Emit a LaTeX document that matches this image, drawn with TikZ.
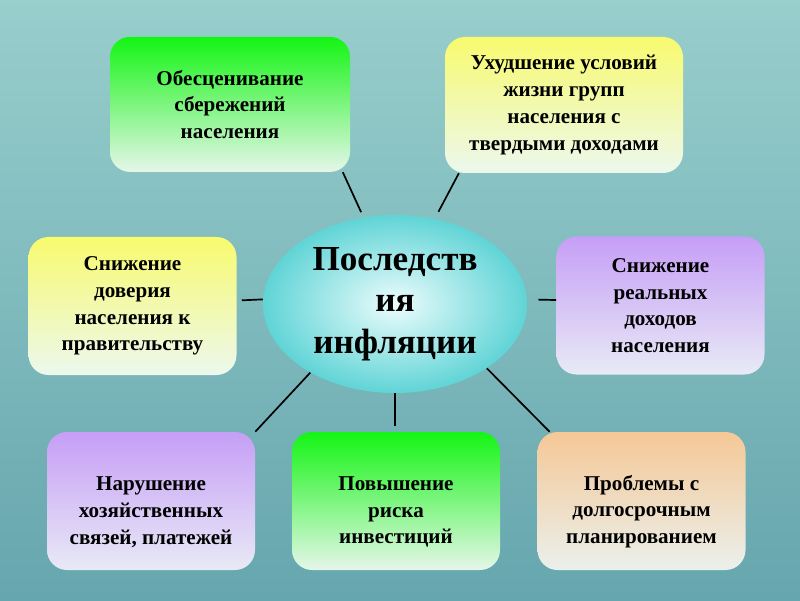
\documentclass[tikz,border=0pt]{standalone}
\usepackage{fontspec}
\setmainfont{Liberation Serif}
\usepackage{xcolor}
\usetikzlibrary{shapes.geometric,positioning}

\definecolor{bgtop}{RGB}{152,206,204}
\definecolor{bgbot}{RGB}{102,166,174}
\definecolor{greentop}{RGB}{20,245,20}
\definecolor{greenbot}{RGB}{230,246,234}
\definecolor{yellowtop}{RGB}{248,250,110}
\definecolor{yellowbot}{RGB}{236,248,238}
\definecolor{purpletop}{RGB}{198,158,246}
\definecolor{purplebot}{RGB}{232,234,246}
\definecolor{orangetop}{RGB}{245,200,150}
\definecolor{orangebot}{RGB}{234,240,236}
\definecolor{corein}{RGB}{236,252,252}
\definecolor{coreout}{RGB}{96,212,214}

\tikzset{
  effect/.style={rectangle, rounded corners=0.5cm, minimum width=5.2cm, minimum height=3.45cm,
    align=center, inner sep=2pt, font=\fontsize{15}{19}\selectfont\bfseries},
  link/.style={line width=1.2pt, black},
}

\begin{document}
\begin{tikzpicture}
% background
\shade[top color=bgtop, bottom color=bgbot] (0,0) rectangle (20,15);
\useasboundingbox (0,0) rectangle (20,15);

% centre
\node[ellipse, minimum width=6.6cm, minimum height=4.45cm, inner sep=0pt, shading=radial,
  inner color=corein, outer color=coreout, align=center,
  font=\fontsize{25}{29.5}\selectfont\bfseries] (core) at (9.875,7.4) {Последств\\ия\\инфляции};

% consequences, top row
\node[effect, minimum width=6cm, minimum height=3.375cm, top color=greentop, bottom color=greenbot]
  (savings) at (5.75,12.39) {Обесценивание\\сбережений\\населения};
\node[effect, minimum width=5.95cm, minimum height=3.4cm, top color=yellowtop, bottom color=yellowbot]
  (living) at (14.1,12.375) {Ухудшение условий\\жизни групп\\населения с\\твердыми доходами};

% consequences, middle row
\node[effect, top color=yellowtop, bottom color=yellowbot]
  (trust) at (3.3125,7.35) {Снижение\\доверия\\населения к\\правительству};
\node[effect, top color=purpletop, bottom color=purplebot]
  (income) at (16.5125,7.3625) {Снижение\\реальных\\доходов\\населения};

% consequences, bottom row
\node[effect, top color=purpletop, bottom color=purplebot]
  (ties) at (3.775,2.475) {\rule{0pt}{0.9cm}Нарушение\\хозяйственных\\связей, платежей};
\node[effect, top color=greentop, bottom color=greenbot]
  (risk) at (9.9,2.475) {\rule{0pt}{0.9cm}Повышение\\риска\\инвестиций};
\node[effect, top color=orangetop, bottom color=orangebot]
  (planning) at (16.0375,2.475) {\rule{0pt}{0.9cm}Проблемы с\\долгосрочным\\планированием};

% connectors
\draw[link, shorten >=0.14cm] (savings.-31) -- (core.110);
\draw[link, shorten >=0.2cm] (living.213) -- (core.65);
\draw[link, shorten <=0.125cm] (trust.3) -- (core.178);
\draw[link, shorten <=0.28cm] (core.2) -- (income.177);
\draw[link] (ties.north east) -- (core.219);
\draw[link, shorten >=0.15cm] (core.south) -- (core.south |- risk.north);
\draw[link] (planning.143) -- (core.-35);
\end{tikzpicture}
\end{document}
